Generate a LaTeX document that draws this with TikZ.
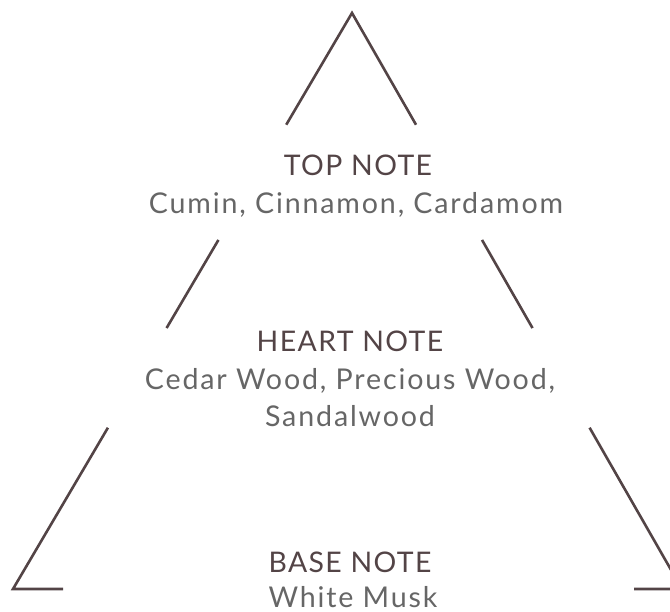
\documentclass[tikz,border=0pt]{standalone}
\usepackage{fontspec}
\setmainfont{Lato}[LetterSpace=5]
\newfontfamily\listfont{Lato}[LetterSpace=6.5]
\usepackage{tikz}
\usetikzlibrary{calc, positioning}
\definecolor{notebrown}{HTML}{534446}
\definecolor{notegrey}{HTML}{666666}
\tikzset{
x=1pt, y=-1pt, % pixel grid of the picture
edge/.style={draw=notebrown, line width=2.6pt}, % the broken outline
notename/.style={text=notebrown, anchor=base, inner sep=0pt, font=\fontsize{28.4}{38}\selectfont}, % heading of each layer
notelist/.style={text=notegrey, anchor=base, inner sep=0pt, font=\listfont\fontsize{28.6}{38}\selectfont}, % what is in the layer
}
\begin{document}
\begin{tikzpicture}
  \useasboundingbox (0,0) rectangle (670,612);
  % corners of the pyramid
  \coordinate (apex) at (352,13);
  \coordinate (lc) at (13,589);
  \coordinate (rc) at (682,589);

  % texts
  \node[notename] (topname) at (358,176) {TOP NOTE};
  \node[notelist] (toplist) at (356,214) {Cumin, Cinnamon, Cardamom};
  \node[notename] (heartname) at (350,352) {HEART NOTE};
  \node[notelist] (heartlist) at (350,390) {Cedar Wood, Precious Wood,};
  \node[notelist] (heartlist2) at (350,427) {Sandalwood};
  \node[notename] (basename) at (350,572) {BASE NOTE};
  \node[notelist] (baselist) at (353,607) {White Musk};

  % outline, broken where the texts are
  \draw[edge] ($(apex)!0.194!(lc)$) -- (apex) -- ($(apex)!0.194!(rc)$);
  \draw[edge] ($(apex)!0.394!(lc)$) -- ($(apex)!0.547!(lc)$);
  \draw[edge] ($(apex)!0.394!(rc)$) -- ($(apex)!0.547!(rc)$);
  \draw[edge] ($(apex)!0.720!(lc)$) -- (lc) -- ($(lc)+(50,0)$);
  \draw[edge] ($(apex)!0.720!(rc)$) -- (rc) -- ($(rc)+(-48,0)$);
\end{tikzpicture}
\end{document}
